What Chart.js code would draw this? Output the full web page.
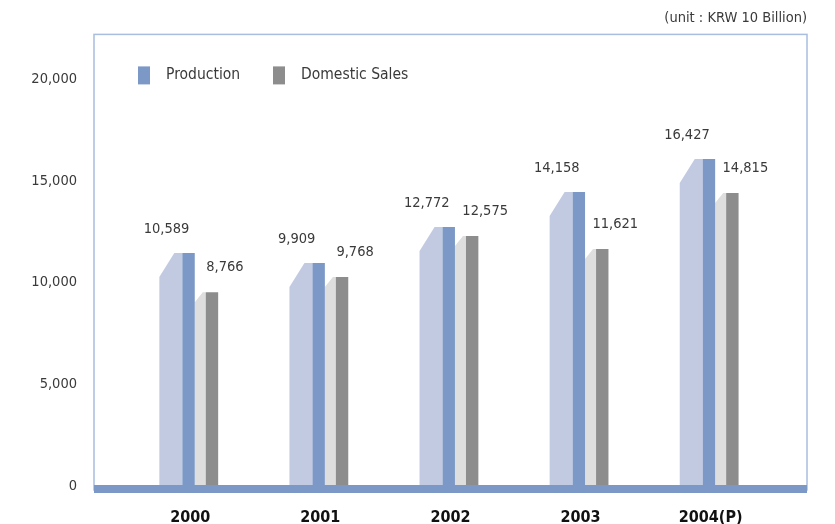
<!DOCTYPE html>
<html>
<head>
<meta charset="utf-8">
<script src="https://cdn.jsdelivr.net/npm/chart.js@4"></script>
<style>
  html, body { margin: 0; padding: 0; background: #fff; }
  #wrap { width: 835px; height: 524px; }
</style>
</head>
<body>
<div id="wrap"><canvas id="c" width="835" height="524"></canvas></div>
<script>
const YEARS = ['2000', '2001', '2002', '2003', '2004(P)'];
// printed values
const PRODUCTION_LABELS = [10589, 9909, 12772, 14158, 16427];
const DOMESTIC_LABELS   = [8766, 9768, 12575, 11621, 14815];
// bar heights as drawn in the picture (read against the axis)
const PRODUCTION = [11450, 10960, 12730, 14450, 16070];
const DOMESTIC   = [9530, 10270, 12290, 11650, 14400];
const Y_TICKS = [0, 5000, 10000, 15000, 20000];

const COLORS = {
  blue:      '#7b98c6',
  blueSide:  '#c1cae1',
  grey:      '#8d8d8d',
  greySide:  '#dedede',
  frame:     '#a9bde0',
  text:      '#3a3a3a',
};

const FONT = '"Liberation Sans Narrow", "DejaVu Sans Condensed", "Liberation Sans", sans-serif';

// side faces, frame, base bar, value labels and legend
const decor = {
  id: 'decor',
  beforeDatasetsDraw(chart) {
    const { ctx, chartArea: a } = chart;
    ctx.save();
    ctx.strokeStyle = COLORS.frame;
    ctx.lineWidth = 1.5;
    ctx.strokeRect(a.left, a.top, a.right - a.left, a.bottom - a.top + 4);

    const pMeta = chart.getDatasetMeta(0).data;
    const dMeta = chart.getDatasetMeta(1).data;
    pMeta.forEach((bar, i) => {
      const L = bar.x - bar.width / 2, T = bar.y, B = bar.base;
      ctx.fillStyle = COLORS.blueSide;
      ctx.beginPath();
      ctx.moveTo(L - 23, B);
      ctx.lineTo(L - 23, T + 24);
      ctx.lineTo(L - 8, T);
      ctx.lineTo(L, T);
      ctx.lineTo(L, B);
      ctx.closePath();
      ctx.fill();

      const g = dMeta[i];
      const gl = g.x - g.width / 2, R = bar.x + bar.width / 2;
      ctx.fillStyle = COLORS.greySide;
      ctx.beginPath();
      ctx.moveTo(R, g.base);
      ctx.lineTo(R, g.y + 10);
      ctx.lineTo(gl - 3, g.y);
      ctx.lineTo(gl, g.y);
      ctx.lineTo(gl, g.base);
      ctx.closePath();
      ctx.fill();
    });
    ctx.restore();
  },
  afterDatasetsDraw(chart) {
    const { ctx, chartArea: a } = chart;
    ctx.save();
    ctx.fillStyle = COLORS.blue;
    ctx.fillRect(a.left, a.bottom - 1, a.right - a.left, 8);

    ctx.font = '14.5px ' + FONT;
    ctx.fillStyle = COLORS.text;
    ctx.textAlign = 'center';
    ctx.textBaseline = 'middle';
    chart.getDatasetMeta(0).data.forEach((bar, i) => {
      ctx.fillText(PRODUCTION_LABELS[i].toLocaleString('en-US'), bar.x - 22, bar.y - 24);
    });
    chart.getDatasetMeta(1).data.forEach((bar, i) => {
      ctx.fillText(DOMESTIC_LABELS[i].toLocaleString('en-US'), bar.x + 13, bar.y - 25);
    });

    // legend
    const items = [
      { text: 'Production', color: COLORS.blue, x: a.left + 44 },
      { text: 'Domestic Sales', color: COLORS.grey, x: a.left + 179 },
    ];
    ctx.font = '15.5px ' + FONT;
    ctx.textAlign = 'left';
    items.forEach(it => {
      ctx.fillStyle = it.color;
      ctx.fillRect(it.x, a.top + 32, 12, 18);
      ctx.fillStyle = COLORS.text;
      ctx.fillText(it.text, it.x + 28, a.top + 41);
    });
    ctx.restore();
  },
};

new Chart(document.getElementById('c'), {
  type: 'bar',
  data: {
    datasets: [
      {
        label: 'Production',
        data: PRODUCTION.map((v, i) => ({ x: i, y: v })),
        backgroundColor: COLORS.blue,
        categoryPercentage: 0.36,
        barPercentage: 0.53,
      },
      {
        label: 'Domestic Sales',
        data: DOMESTIC.map((v, i) => ({ x: i, y: v })),
        backgroundColor: COLORS.grey,
        categoryPercentage: 0.36,
        barPercentage: 0.53,
      },
    ],
  },
  options: {
    responsive: false,
    animation: false,
    events: [],
    layout: { padding: { right: 28, bottom: 0, left: 0 } },
    plugins: {
      legend: { display: false },
      tooltip: { enabled: false },
      title: {
        display: true,
        text: '(unit : KRW 10 Billion)',
        align: 'end',
        color: COLORS.text,
        font: { family: FONT, size: 14.5, weight: 'normal' },
        padding: { top: 10, bottom: 7 },
      },
    },
    scales: {
      x: {
        type: 'linear',
        offset: false,
        min: -0.8167,
        max: 4.6637,
        grid: { display: false, drawTicks: false, offset: false },
        border: { display: false },
        afterBuildTicks: (s) => { s.ticks = YEARS.map((_, i) => ({ value: i })); },
        afterFit: (s) => { s.height = 38; },
        ticks: {
          color: '#111',
          padding: 22,
          labelOffset: -10,
          font: { family: FONT, size: 16, weight: 'bold' },
          callback: (v) => YEARS[v],
        },
      },
      y: {
        min: 0,
        max: 22200,
        grid: { display: false, drawTicks: false },
        border: { display: false },
        afterBuildTicks: (s) => { s.ticks = Y_TICKS.map(v => ({ value: v })); },
        afterFit: (s) => { s.width = 94; },
        ticks: {
          color: COLORS.text,
          padding: 17,
          font: { family: FONT, size: 14.5 },
          callback: (v) => v.toLocaleString('en-US'),
        },
      },
    },
  },
  plugins: [decor],
});
</script>
</body>
</html>
